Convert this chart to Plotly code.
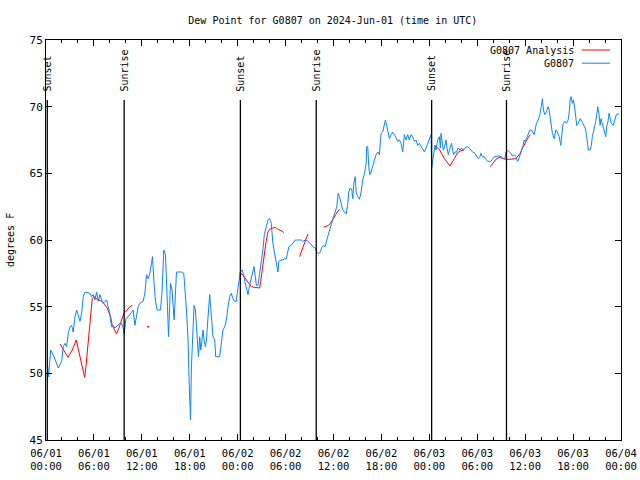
import pandas as pd
import plotly.graph_objects as go

# ---------------- data (hours after 2024-06-01 00:00 UTC, degrees F) ----------------
blue_hours = [0.2, 0.33, 0.58, 1.0, 1.54, 1.96, 2.16, 2.38, 2.59, 2.79, 3.0, 3.21, 3.41, 3.63, 3.84,
              4.04, 4.25, 4.46, 4.66, 4.88, 5.5, 5.71, 5.91, 6.13, 6.34, 6.54, 6.75, 6.96, 7.16,
              7.38, 7.59, 7.79, 8.0, 8.21, 8.41, 8.63, 8.84, 9.04, 9.25, 9.46, 9.66, 9.79, 10.0,
              10.29, 10.59, 10.91, 11.13, 11.34, 11.54, 11.75, 12.16, 12.38, 12.59, 12.79, 13.0,
              13.21, 13.34, 13.5, 13.71, 13.91, 14.34, 14.54, 14.75, 14.96, 15.09, 15.21, 15.34,
              15.5, 15.59, 15.79, 15.91, 16.04, 16.13, 16.34, 16.96, 17.25, 17.59, 17.79, 17.91,
              18.0, 18.09, 18.21, 18.34, 18.54, 18.71, 18.84, 18.96, 19.09, 19.25, 19.38, 19.54,
              19.66, 19.79, 19.96, 20.09, 20.21, 20.38, 20.5, 20.63, 20.79, 20.91, 21.13, 21.25,
              21.75, 21.96, 22.16, 22.38, 22.59, 22.79, 23.0, 23.21, 23.41, 23.63, 23.84, 23.96,
              24.16, 24.34, 24.54, 24.75, 24.96, 25.16, 25.29, 25.5, 25.71, 25.91, 26.04, 26.21,
              26.34, 26.54, 26.75, 26.96, 27.16, 27.34, 27.59, 27.79, 28.0, 28.21, 28.41, 28.63,
              28.84, 29.04, 29.16, 29.46, 29.66, 29.88, 30.09, 30.21, 30.41, 30.71, 30.91, 31.21,
              31.54, 31.96, 32.16, 32.5, 32.79, 33.09, 33.41, 33.71, 33.91, 34.13, 34.34, 34.54,
              34.75, 34.96, 35.16, 35.38, 35.59, 35.79, 36.0, 36.21, 36.41, 36.59, 36.75, 36.96,
              37.16, 37.38, 37.59, 37.79, 37.91, 38.09, 38.29, 38.41, 38.54, 38.71, 38.84, 39.04,
              39.25, 39.46, 39.66, 39.88, 40.09, 40.16, 40.29, 40.41, 40.54, 40.71, 40.91, 41.13,
              41.34, 41.54, 41.75, 41.84, 41.96, 42.16, 42.38, 42.5, 42.66, 42.88, 43.0, 43.21,
              43.41, 43.63, 43.84, 44.04, 44.25, 44.46, 44.66, 44.88, 45.09, 45.29, 45.5, 45.71,
              45.91, 46.13, 46.34, 46.54, 46.75, 46.96, 47.16, 47.38, 47.59, 47.79, 48.0, 48.21,
              48.29, 48.41, 48.54, 48.71, 48.84, 49.04, 49.25, 49.38, 49.46, 49.59, 49.75, 49.96,
              50.09, 50.21, 50.38, 50.59, 50.79, 50.91, 51.04, 51.21, 51.41, 51.63, 51.84, 52.04,
              52.16, 52.46, 52.79, 53.0, 53.21, 53.41, 53.71, 53.91, 54.13, 54.34, 54.46, 54.66,
              54.88, 55.09, 55.29, 55.71, 55.91, 56.13, 56.63, 57.04, 57.25, 57.46, 57.59, 57.79,
              58.0, 58.21, 58.41, 58.63, 58.84, 59.04, 59.16, 59.38, 59.54, 59.75, 59.88, 60.0,
              60.16, 60.38, 60.59, 60.79, 61.0, 61.13, 61.25, 61.41, 61.63, 61.84, 62.04, 62.16,
              62.29, 62.46, 62.59, 62.71, 62.88, 63.0, 63.13, 63.25, 63.41, 63.63, 63.84, 64.04,
              64.25, 64.46, 64.59, 64.75, 64.96, 65.16, 65.38, 65.5, 65.63, 65.75, 65.91, 66.04,
              66.21, 66.34, 66.46, 66.66, 66.88, 67.09, 67.29, 67.5, 67.66, 67.79, 67.91, 68.13,
              68.29, 68.41, 68.63, 68.84, 68.96, 69.09, 69.25, 69.38, 69.5, 69.66, 69.88, 70.09,
              70.21, 70.38, 70.5, 70.63, 70.79, 71.04, 71.25, 71.41, 71.63, 71.75]
blue_vals = [50.6, 49.75, 51.75, 51.25, 50.4, 50.9, 52.0, 52.25, 52.0, 53.0, 53.5, 53.6, 53.1, 54.25, 54.75,
             54.4, 53.9, 54.5, 55.75, 56.1, 56.0, 55.75, 55.9, 55.5, 56.1, 55.4, 55.9, 55.5, 55.25,
             55.4, 55.5, 55.0, 54.4, 53.5, 53.6, 53.4, 53.5, 53.6, 53.75, 53.75, 53.4, 52.9, 54.1,
             54.25, 54.5, 54.75, 53.6, 54.25, 55.0, 55.25, 55.4, 56.0, 57.4, 57.1, 57.5,
             58.25, 58.75, 57.0, 55.4, 54.75, 54.75, 56.25, 59.25, 58.9, 57.25, 55.0, 52.75,
             54.75, 56.75, 56.25, 54.6, 54.0, 55.0, 57.6, 57.6, 57.5, 54.75, 52.5, 49.75,
             47.75, 46.5, 50.5, 52.75, 55.1, 54.75, 53.5, 51.75, 51.25, 52.75, 51.75, 52.5,
             53.25, 52.5, 52.0, 52.5, 54.0, 55.0, 55.9, 54.75, 53.75, 52.75, 52.5, 51.25,
             51.25, 52.5, 53.25, 53.5, 54.0, 55.0, 55.75, 56.0, 55.6, 55.4, 55.4, 56.1,
             57.0, 57.6, 57.75, 57.4, 56.75, 56.1, 55.9, 56.6, 57.25, 57.75, 58.0, 57.25,
             56.6, 56.6, 57.4, 58.25, 59.25, 60.4, 61.1, 61.5, 61.6, 61.25, 59.75, 58.9,
             58.4, 57.6, 58.4, 58.5, 58.5, 58.6, 58.6, 58.9, 59.5, 59.6, 59.75, 60.0,
             60.0, 60.0, 59.9, 60.0, 59.9, 59.75, 59.5, 59.4, 59.1, 58.95, 59.1, 59.45,
             59.6, 59.5, 60.0, 60.5, 60.9, 61.25, 61.75, 62.1, 62.5, 63.5, 63.25, 62.75,
             62.25, 62.1, 61.95, 62.75, 63.6, 63.9, 63.75, 63.1, 64.25, 64.75, 63.6, 63.25,
             63.05, 63.6, 64.5, 65.0, 65.75, 67.0, 67.0, 65.5, 64.9, 65.1, 65.6, 66.0,
             66.4, 66.6, 66.4, 67.5, 68.0, 68.1, 68.75, 69.0, 68.6, 68.0, 67.6, 67.9,
             68.1, 67.9, 67.6, 67.4, 67.5, 67.25, 66.6, 67.9, 67.5, 67.9, 67.5, 67.9,
             67.75, 67.4, 67.5, 67.1, 67.25, 67.0, 66.75, 66.6, 66.9, 67.25, 67.5, 67.9,
             65.4, 66.0, 66.6, 67.1, 66.75, 67.5, 67.75, 66.9, 68.0, 67.25, 66.75, 67.1,
             67.5, 66.9, 66.4, 66.9, 67.25, 66.75, 66.4, 66.6, 66.6, 66.9, 66.75, 66.9,
             66.75, 66.9, 67.0, 66.9, 66.75, 66.6, 66.5, 66.25, 66.1, 66.25, 66.5, 66.25,
             66.25, 66.05, 65.9, 65.9, 66.1, 66.25, 66.3, 66.25, 66.1, 66.1, 66.6, 66.7,
             66.6, 66.5, 66.3, 66.4, 66.25, 65.9, 66.0, 66.4, 66.75, 67.1, 67.5, 67.4,
             67.6, 68.0, 68.25, 68.25, 68.0, 67.9, 68.25, 68.75, 69.0, 69.4, 70.1, 70.6,
             69.75, 69.4, 69.5, 69.75, 70.0, 69.75, 69.25, 68.75, 68.0, 67.6, 68.25, 68.1,
             67.75, 67.1, 68.0, 68.75, 68.9, 68.75, 69.0, 69.5, 70.5, 70.75, 70.25, 70.5,
             69.9, 69.25, 68.6, 68.75, 69.1, 68.9, 68.6, 68.4, 68.0, 67.5, 66.75, 66.75,
             67.1, 67.75, 68.25, 68.9, 69.4, 70.0, 69.4, 68.6, 69.1, 68.75, 68.1, 67.75,
             68.5, 68.9, 69.5, 69.1, 68.75, 68.6, 69.0, 69.4, 69.45, 69.45]

# Analysis series; None marks a gap between segments
red_hours = [1.75, 2.25, 2.75, 3.29, 3.79, 4.13, 4.41, 4.66, 4.84, 5.0, 5.16, 5.38, 5.59, 5.79, 6.0,
             6.41, 6.84, 7.25, 7.66, 8.09, 8.29, 8.59, 8.84, 9.13, 9.41, 9.75, 10.16, 10.5, 10.79, None,
             24.25, 24.66, 25.09, 25.38, 25.71, 26.13, 26.54, 26.75, 26.88, 27.04, 27.16, 27.38,
             27.59, 27.79, 28.0, 28.41, 28.75, 29.04, 29.46, 29.79, None,
             31.75, 31.96, 32.25, 32.5, 32.79, None,
             34.75, 35.09, 35.41, 35.59, 35.79, 36.0, 36.25, 36.54, 36.75, None,
             48.63, 49.25, 49.88, 50.59, 51.13, 51.54, 51.96, 52.38, None,
             55.63, 56.0, 56.34, 56.75, 57.16, 57.59, 58.0, 58.41, 58.84, 59.25, 59.46, 59.66,
             59.88, 60.09, 60.41, 60.63]
red_vals = [52.2, 51.75, 51.2, 51.75, 52.5, 51.6, 50.75, 50.25, 49.7, 50.5, 51.5, 53.25, 54.6, 55.6, 55.75,
            55.55, 55.45, 55.25, 54.9, 54.25, 53.6, 53.25, 52.95, 53.4, 53.9, 54.5, 54.75, 55.0, 55.1, None,
            57.5, 57.4, 57.0, 56.75, 56.5, 56.45, 56.4, 56.4, 56.9, 57.6, 58.25, 59.25,
            60.0, 60.6, 60.8, 60.9, 60.95, 60.8, 60.7, 60.55, None,
            58.75, 59.1, 59.6, 60.05, 60.45, None,
            60.95, 61.05, 61.1, 61.25, 61.4, 61.6, 61.9, 62.1, 62.3, None,
            67.1, 66.8, 66.1, 65.55, 66.1, 66.55, 66.7, 66.75, None,
            65.5, 65.8, 66.05, 66.2, 66.1, 66.05, 66.05, 66.05, 66.1, 66.4, 66.6, 66.9,
            67.1, 67.4, 67.75, 67.9]
red_dot_hours = [12.79]
red_dot_vals = [53.5]

sun_hours = [0.16, 9.79, 24.34, 33.84, 48.29, 57.66]
sun_labels = ["Sunset", "Sunrise", "Sunset", "Sunrise", "Sunset", "Sunrise"]

series_names = ["G0807 Analysis", "G0807"]
title_text = "Dew Point for G0807 on 2024-Jun-01 (time in UTC)"
y_label = "degrees F"

# ---------------- helpers ----------------
base = pd.Timestamp("2024-06-01 00:00")


def to_time(hours):
    return [None if h is None else base + pd.Timedelta(hours=h) for h in hours]


FONT = "DejaVu Sans Mono"
FS = 10
RED = "#ff0000"
BLUE = "#0a84ff"

fig = go.Figure()

fig.add_trace(go.Scatter(x=to_time(red_hours), y=red_vals, mode="lines",
                         line=dict(color=RED, width=1), connectgaps=False,
                         name=series_names[0], showlegend=False))
fig.add_trace(go.Scatter(x=to_time(red_dot_hours), y=red_dot_vals, mode="markers",
                         marker=dict(color=RED, size=2), showlegend=False))
fig.add_trace(go.Scatter(x=to_time(blue_hours), y=blue_vals, mode="lines",
                         line=dict(color=BLUE, width=1),
                         name=series_names[1], showlegend=False))

shapes = []
annotations = []
for h, lab in zip(sun_hours, sun_labels):
    t = base + pd.Timedelta(hours=h)
    shapes.append(dict(type="line", xref="x", yref="y", x0=t, x1=t, y0=45, y1=70.5,
                       line=dict(color="black", width=1.3)))
    annotations.append(dict(x=t, y=71.0, xref="x", yref="y", text=lab, textangle=-90,
                            showarrow=False, xanchor="center", yanchor="bottom",
                            font=dict(family=FONT, size=FS, color="black")))

# manual legend (text on the left, line sample on the right)
for i, (name, col) in enumerate(zip(series_names, [RED, BLUE])):
    yp = 0.975 - i * 0.033
    shapes.append(dict(type="line", xref="paper", yref="paper", x0=0.932, x1=0.981,
                       y0=yp, y1=yp, line=dict(color=col, width=1)))
    annotations.append(dict(x=0.921, y=yp, xref="paper", yref="paper", text=name,
                            showarrow=False, xanchor="right", yanchor="middle",
                            font=dict(family=FONT, size=FS, color="black")))

annotations.append(dict(x=-0.0626, y=0.5, xref="paper", yref="paper", text=y_label,
                        textangle=-90, showarrow=False, xanchor="center", yanchor="middle",
                        font=dict(family=FONT, size=FS, color="black")))

fig.update_layout(
    width=640, height=480,
    margin=dict(l=46, r=19, t=40, b=40, autoexpand=False),
    paper_bgcolor="white", plot_bgcolor="white",
    font=dict(family=FONT, size=FS, color="black"),
    title=dict(text=title_text, x=0.52, xanchor="center", y=0.9583, yanchor="middle",
               font=dict(family=FONT, size=FS, color="black")),
    showlegend=False,
    shapes=shapes,
    annotations=annotations,
)

fig.update_xaxes(
    type="date",
    range=[base, base + pd.Timedelta(hours=72)],
    dtick=6 * 3600 * 1000,
    tick0=base,
    tickformat="%m/%d<br>%H:%M",
    ticks="inside", ticklen=6, tickcolor="black",
    minor=dict(dtick=2 * 3600 * 1000, ticks="inside", ticklen=3, tickcolor="black"),
    showline=True, linecolor="black", linewidth=1, mirror="ticks",
    showgrid=False, zeroline=False, automargin=False,
    ticklabelstandoff=3,
    tickfont=dict(family=FONT, size=FS + 0.5, color="black"),
)
fig.update_yaxes(
    range=[45, 75], dtick=5, tick0=45,
    ticks="inside", ticklen=6, tickcolor="black",
    showline=True, linecolor="black", linewidth=1, mirror="ticks",
    showgrid=False, zeroline=False, automargin=False,
    tickfont=dict(family=FONT, size=FS + 1, color="black"),
)

# remove the browser's default page margin so the 640x480 figure fills the window
fig.write_html("out.html",
               config={"displayModeBar": False, "staticPlot": True},
               post_script="document.body.style.margin='0px';document.body.style.overflow='hidden';")
